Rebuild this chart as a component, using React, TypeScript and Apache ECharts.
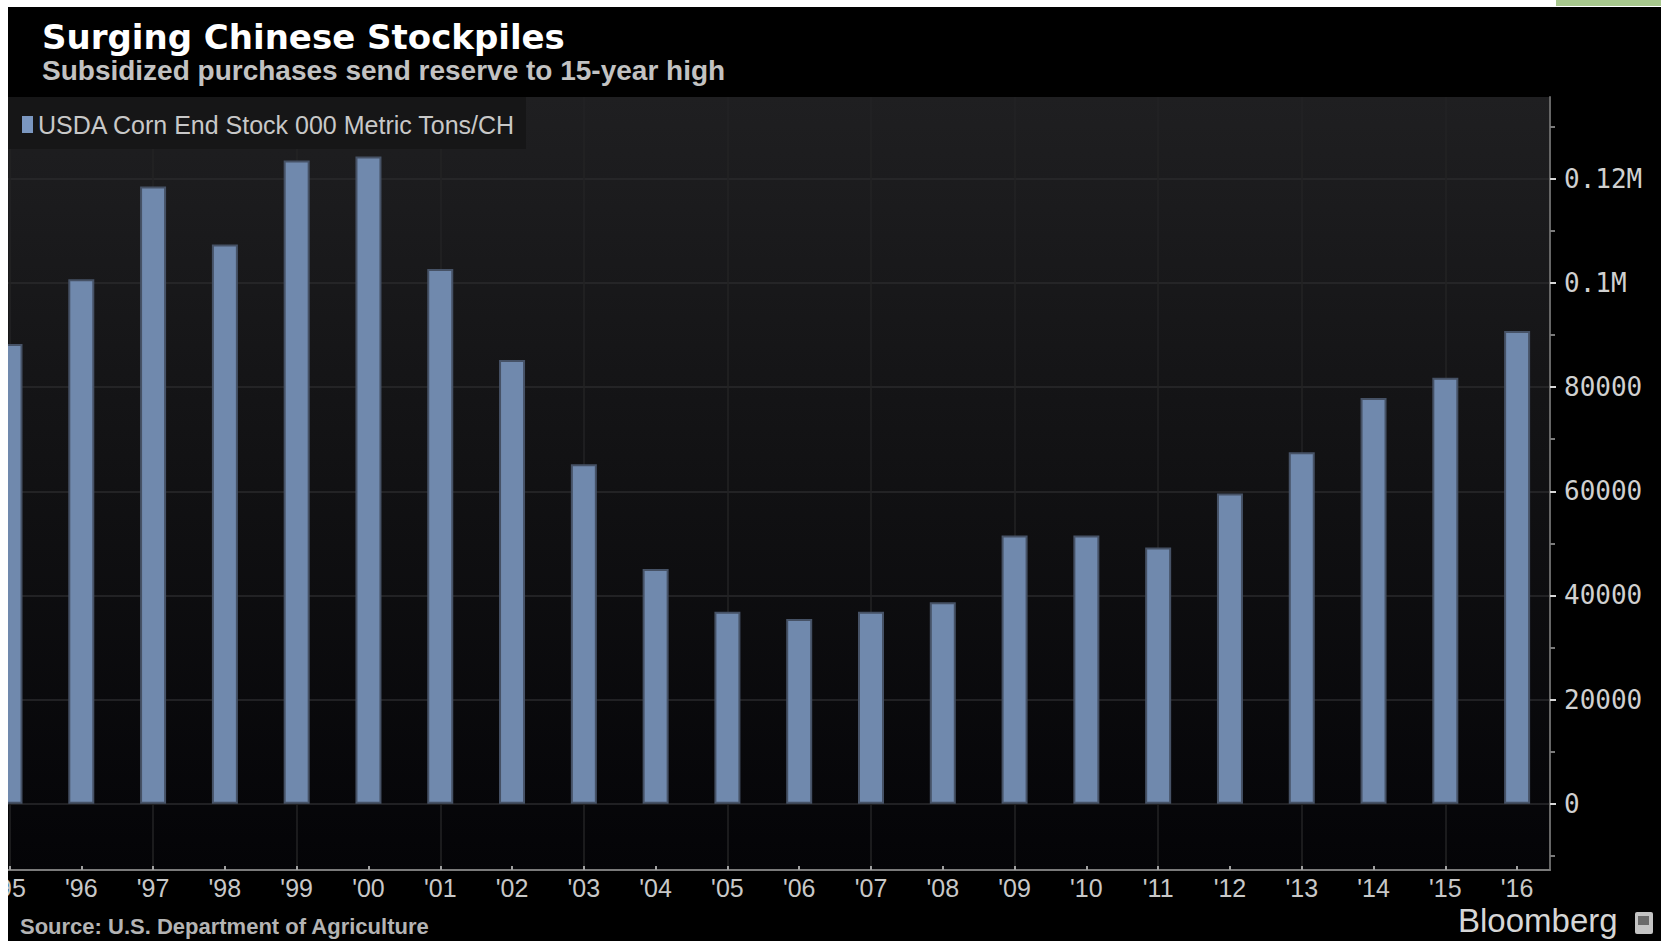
import React, { useEffect, useRef } from "react";
import * as echarts from "echarts";

// ---- data ----
const years = [
  1995, 1996, 1997, 1998, 1999, 2000, 2001, 2002, 2003, 2004, 2005,
  2006, 2007, 2008, 2009, 2010, 2011, 2012, 2013, 2014, 2015, 2016,
];
const endStocks = [
  88300, 100700, 118500, 107400, 123500, 124300, 102700, 85200, 65200, 45100, 36900,
  35500, 36900, 38700, 51500, 51500, 49200, 59600, 67500, 77900, 81800, 90800,
];
const yLabelValues = [0, 20000, 40000, 60000, 80000, 100000, 120000];
const yMinorValues = [-10000, 10000, 30000, 50000, 70000, 90000, 110000, 130000];
const xGridYears = [1995, 1997, 1999, 2001, 2003, 2005, 2007, 2009, 2011, 2013, 2015];

const seriesName = "USDA Corn End Stock 000 Metric Tons/CH";
const titleText = "Surging Chinese Stockpiles";
const subtitleText = "Subsidized purchases send reserve to 15-year high";
const sourceText = "Source: U.S. Department of Agriculture";

const X_MIN = 1994.979;
const X_MAX = 2016.458;
const Y_MIN = -12700;
const Y_MAX = 135700;

export default function App() {
  const ref = useRef<HTMLDivElement>(null);

  useEffect(() => {
    if (!ref.current) return;
    const chart = echarts.init(ref.current, null, { renderer: "svg" });

    const yFmt = (v: number) => (v >= 100000 ? `${v / 1000000}M` : String(v));

    const option: any = {
      animation: false,
      backgroundColor: "#000000",
      title: [
        {
          text: titleText,
          left: 42,
          top: 20,
          padding: 0,
          textStyle: {
            color: "#ffffff",
            fontFamily: "DejaVu Sans",
            fontWeight: "bold",
            fontSize: 34,
          },
        },
        {
          text: subtitleText,
          left: 42,
          top: 56,
          padding: 0,
          textStyle: {
            color: "#c2c2c2",
            fontFamily: "Liberation Sans",
            fontWeight: "bold",
            fontSize: 28,
          },
        },
      ],
      legend: {
        left: 22,
        top: 112,
        padding: 0,
        itemWidth: 11,
        itemHeight: 17,
        icon: "rect",
        selectedMode: false,
        data: [seriesName],
        itemStyle: { color: "#7b97c0", borderWidth: 0 },
        textStyle: {
          color: "#c8c8c8",
          fontFamily: "Liberation Sans",
          fontSize: 25,
        },
        z: 5,
      },
      grid: {
        left: 8,
        right: 111,
        top: 97,
        bottom: 71,
        outerBoundsMode: "none",
        containLabel: false,
        show: true,
        borderWidth: 0,
        backgroundColor: new echarts.graphic.LinearGradient(0, 0, 0, 1, [
          { offset: 0, color: "#1f1f21" },
          { offset: 0.5, color: "#111113" },
          { offset: 1, color: "#040407" },
        ]),
      },
      xAxis: [
        {
          type: "value",
          min: X_MIN,
          max: X_MAX,
          position: "bottom",
          axisLine: { show: true, onZero: false, lineStyle: { color: "#7a7a7a", width: 2 } },
          axisTick: {
            show: true,
            customValues: years,
            inside: true,
            length: 4,
            lineStyle: { color: "#a0a0a0", width: 2 },
          },
          axisLabel: {
            show: true,
            customValues: years,
            margin: 5,
            formatter: (v: number) => "'" + String(Math.round(v)).slice(2),
            color: "#c8c8c8",
            fontFamily: "Liberation Sans",
            fontSize: 25,
          },
          splitLine: { show: false },
        },
        {
          type: "value",
          min: X_MIN,
          max: X_MAX,
          position: "bottom",
          axisLine: { show: false, onZero: false },
          axisTick: { show: false, customValues: xGridYears },
          axisLabel: { show: false, customValues: xGridYears },
          splitLine: { show: true, lineStyle: { color: "#232325", width: 1.5 } },
        },
      ],
      yAxis: [
        {
          type: "value",
          position: "right",
          min: Y_MIN,
          max: Y_MAX,
          axisLine: { show: true, onZero: false, lineStyle: { color: "#666666", width: 2 } },
          axisTick: {
            show: true,
            customValues: yLabelValues,
            inside: false,
            length: 6,
            lineStyle: { color: "#d6d6d6", width: 2 },
          },
          axisLabel: {
            show: true,
            customValues: yLabelValues,
            margin: 14,
            formatter: yFmt,
            color: "#d0d0d0",
            fontFamily: "DejaVu Sans Mono",
            fontSize: 26,
          },
          splitLine: { show: true, lineStyle: { color: "#2a2a2d", width: 1.5 } },
        },
        {
          type: "value",
          position: "right",
          min: Y_MIN,
          max: Y_MAX,
          axisLine: { show: false, onZero: false },
          axisTick: {
            show: true,
            customValues: yMinorValues,
            inside: false,
            length: 5,
            lineStyle: { color: "#7a7a7a", width: 2 },
          },
          axisLabel: { show: false, customValues: yMinorValues },
          splitLine: { show: false },
        },
      ],
      series: [
        {
          type: "bar",
          name: seriesName,
          xAxisIndex: 0,
          yAxisIndex: 0,
          data: years.map((y, i) => [y, endStocks[i]]),
          barWidth: 26,
          clip: true,
          itemStyle: { color: "#7089ad", borderColor: "#465266", borderWidth: 2 },
        },
      ],
      graphic: [
        // legend background
        {
          type: "rect",
          z: 3,
          shape: { x: 8, y: 97, width: 518, height: 52 },
          style: { fill: "#161617" },
          silent: true,
        },
        // page margins (white) and top-right strip
        {
          type: "rect",
          z: 100,
          shape: { x: 0, y: 0, width: 1661, height: 7 },
          style: { fill: "#ffffff" },
          silent: true,
        },
        {
          type: "rect",
          z: 100,
          shape: { x: 0, y: 0, width: 8, height: 941 },
          style: { fill: "#ffffff" },
          silent: true,
        },
        {
          type: "rect",
          z: 101,
          shape: { x: 1556, y: 0, width: 105, height: 6 },
          style: { fill: "#a8c88e" },
          silent: true,
        },
        // source
        {
          type: "text",
          z: 10,
          x: 20,
          y: 926,
          style: {
            text: sourceText,
            fill: "#b4b4b4",
            fontFamily: "Liberation Sans",
            fontWeight: "bold",
            fontSize: 22,
            verticalAlign: "middle",
            align: "left",
          },
        },
        // Bloomberg mark
        {
          type: "text",
          z: 10,
          x: 1458,
          y: 920,
          style: {
            text: "Bloomberg",
            fill: "#d6d6d6",
            fontFamily: "Liberation Sans",
            fontSize: 33,
            verticalAlign: "middle",
            align: "left",
          },
        },
        {
          type: "rect",
          z: 10,
          shape: { x: 1635, y: 912, width: 18, height: 22, r: 2 },
          style: { fill: "#c4c4c4" },
        },
        {
          type: "rect",
          z: 11,
          shape: { x: 1638, y: 916, width: 11, height: 9 },
          style: { fill: "#6a6a6a" },
        },
      ],
    };

    chart.setOption(option);
    return () => {
      chart.dispose();
    };
  }, []);

  return (
    <div
      ref={ref}
      style={{ position: "absolute", left: 0, top: 0, width: 1661, height: 941 }}
    />
  );
}
